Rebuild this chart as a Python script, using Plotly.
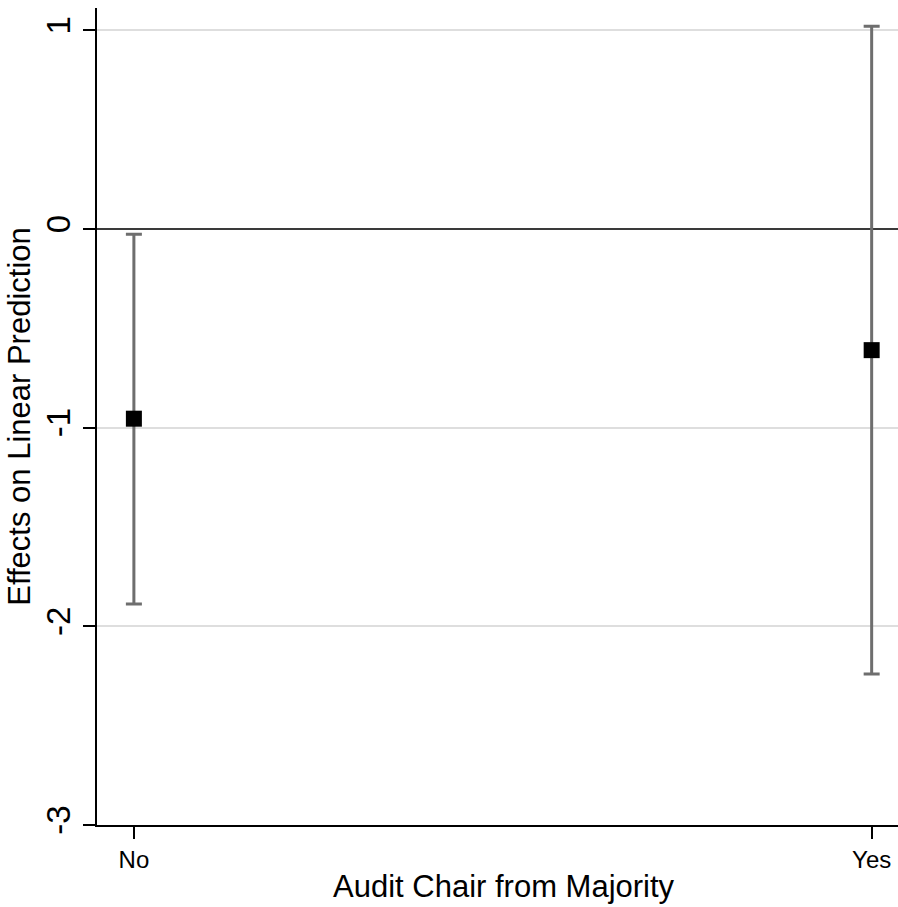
import plotly.graph_objects as go

# Margins estimates with 95% confidence intervals
categories = ["No", "Yes"]
x_pos = [0, 1]
estimates = [-0.955, -0.610]
ci_upper = [-0.027, 1.020]
ci_lower = [-1.888, -2.240]

y_ticks = [-3, -2, -1, 0, 1]

err_plus = [u - e for u, e in zip(ci_upper, estimates)]
err_minus = [e - l for e, l in zip(estimates, ci_lower)]

FONT = "Liberation Sans, Arial, Helvetica, sans-serif"

fig = go.Figure()

fig.add_trace(go.Scatter(
    x=x_pos,
    y=estimates,
    mode="markers",
    marker=dict(symbol="square", size=16, color="black", line=dict(width=0)),
    error_y=dict(
        type="data",
        symmetric=False,
        array=err_plus,
        arrayminus=err_minus,
        color="#6e6e6e",
        thickness=3,
        width=8,
    ),
    showlegend=False,
    hoverinfo="skip",
))

# X-axis title
fig.add_annotation(
    text="Audit Chair from Majority",
    xref="paper", yref="paper",
    x=0.5, y=0, xshift=6, yshift=-81,
    xanchor="center", yanchor="bottom",
    showarrow=False,
    font=dict(size=31, family=FONT, color="black"),
)

fig.update_layout(
    width=898,
    height=907,
    margin=dict(l=97, r=0, t=8, b=82),
    paper_bgcolor="white",
    plot_bgcolor="white",
    font=dict(family=FONT, color="black"),
    xaxis=dict(
        range=[-0.050, 1.0357],
        tickmode="array",
        tickvals=x_pos,
        ticktext=categories,
        ticks="outside",
        ticklen=12,
        tickwidth=2,
        tickcolor="black",
        tickfont=dict(size=24, family=FONT),
        showgrid=False,
        zeroline=False,
        showline=True,
        linecolor="black",
        linewidth=2,
        automargin=False,
    ),
    yaxis=dict(
        range=[-3, 1.112],
        tickmode="array",
        tickvals=y_ticks,
        ticktext=[str(v) for v in y_ticks],
        tickangle=-90,
        ticks="outside",
        ticklen=12,
        tickwidth=2,
        tickcolor="black",
        tickfont=dict(size=33, family=FONT),
        showgrid=True,
        gridcolor="#dedede",
        gridwidth=2,
        # reference line at zero
        zeroline=True,
        zerolinecolor="#3a3a3a",
        zerolinewidth=2,
        showline=True,
        linecolor="black",
        linewidth=2,
        title=dict(text="Effects on Linear Prediction",
                   font=dict(size=31, family=FONT), standoff=0),
        automargin=False,
    ),
)

fig.write_html("out.html")
